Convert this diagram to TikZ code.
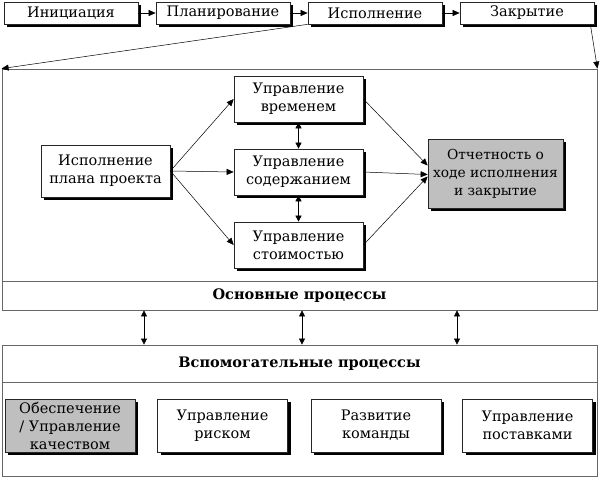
\documentclass[tikz,border=0pt]{standalone}
\usepackage{fontspec}
\setmainfont{DejaVu Serif}
\usetikzlibrary{arrows.meta,shadows}
\begin{document}
\begin{tikzpicture}[x=1pt,y=-1pt,
  box/.style={draw=black!85, line width=0.7pt, fill=white, align=center, inner sep=0pt,
    font=\fontsize{14.5}{18}\selectfont,
    general shadow={fill=black, shadow xshift=3pt, shadow yshift=-3pt}},
  graybox/.style={box, fill=black!25},
  frame/.style={draw=black!60, line width=0.8pt, inner sep=0pt, fill=white},
  head/.style={frame, font=\fontsize{14.5}{18}\selectfont\bfseries},
  arr/.style={-{Triangle[length=7pt,width=6pt]}, line width=0.5pt},
  dbl/.style={{Triangle[length=6pt,width=6pt]}-{Triangle[length=6pt,width=6pt]}, line width=0.6pt}
]
\useasboundingbox (0,0) rectangle (600,478);

% top row
\node[box, minimum width=134pt, minimum height=22pt] (i1) at (71,13) {Инициация};
\node[box, minimum width=134pt, minimum height=22pt] (i2) at (223,13) {Планирование};
\node[box, minimum width=134pt, minimum height=22pt] (i3) at (375,13) {Исполнение};
\node[box, minimum width=134pt, minimum height=22pt] (i4) at (527,13) {Закрытие};
\draw[arr] (i1.east) -- (i2.west);
\draw[arr] (i2.east) -- (i3.west);
\draw[arr] (i3.east) -- (i4.west);

% frames
\node[frame, minimum width=595pt, minimum height=212pt] (upper) at (299.5,175) {};
\node[head, minimum width=595pt, minimum height=29pt] (osn) at (299.5,295.5) {Основные процессы};
\node[head, minimum width=595pt, minimum height=37pt] (vsp) at (299.5,363.5) {Вспомогательные процессы};
\node[frame, minimum width=595pt, minimum height=94pt] (lower) at (299.5,429) {};

\draw[arr] (i3.south west) -- (upper.north west);
\draw[arr] ([xshift=-4pt]i4.south east) -- (upper.north east);

% middle section
\node[box, minimum width=129pt, minimum height=52pt] (plan) at (105.5,171) {Исполнение\\плана проекта};
\node[box, minimum width=129pt, minimum height=46pt] (u1) at (298.5,99) {Управление\\временем};
\node[box, minimum width=129pt, minimum height=46pt] (u2) at (298.5,172) {Управление\\содержанием};
\node[box, minimum width=129pt, minimum height=46pt] (u3) at (298.5,245) {Управление\\стоимостью};
\node[graybox, minimum width=135pt, minimum height=69pt, font=\fontsize{13.8}{18}\selectfont] (rep) at (495.5,173.5) {Отчетность о\\ходе исполнения\\и закрытие};

\draw[arr] (plan.east) -- (u1.west);
\draw[arr] (plan.east) -- (u2.west);
\draw[arr] (plan.east) -- (u3.west);
\draw[arr] (u1.east) -- ([yshift=8pt]rep.west);
\draw[arr] (u2.east) -- ([yshift=-1pt]rep.west);
\draw[arr] (u3.east) -- ([yshift=-3pt]rep.west);
\draw[dbl] (u1.south) -- (u2.north);
\draw[dbl] (u2.south) -- (u3.north);

% vertical links
\coordinate (a1) at (144,0);
\coordinate (a2) at (302,0);
\coordinate (a3) at (457,0);
\draw[dbl] (osn.south -| a1) -- (vsp.north -| a1);
\draw[dbl] (osn.south -| a2) -- (vsp.north -| a2);
\draw[dbl] (osn.south -| a3) -- (vsp.north -| a3);

% bottom boxes
\node[graybox, minimum width=130pt, minimum height=53pt] (b1) at (70,425.5) {Обеспечение\\/ Управление\\качеством};
\node[box, minimum width=130pt, minimum height=53pt] (b2) at (222.5,425.5) {Управление\\риском};
\node[box, minimum width=130pt, minimum height=53pt] (b3) at (376,425.5) {Развитие\\команды};
\node[box, minimum width=130pt, minimum height=53pt] (b4) at (527.5,425.5) {Управление\\поставками};
\end{tikzpicture}
\end{document}
